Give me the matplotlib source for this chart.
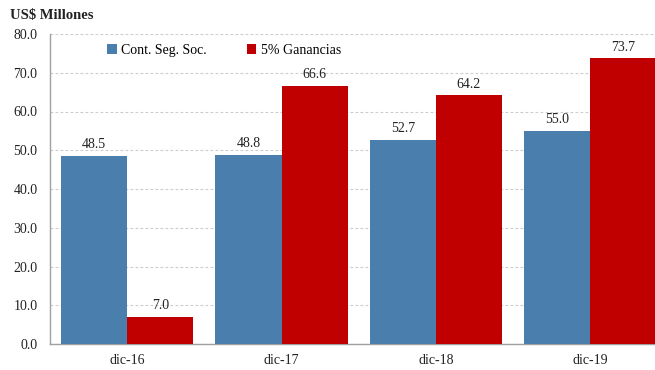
import matplotlib
matplotlib.use("Agg")
import matplotlib.pyplot as plt
import numpy as np

categories = ["dic-16", "dic-17", "dic-18", "dic-19"]
seg_soc = [48.5, 48.8, 52.7, 55.0]
ganancias = [7.0, 66.6, 64.2, 73.7]
series_names = ["Cont. Seg. Soc.", "5% Ganancias"]
colors = ["#4a7fad", "#c00000"]

plt.rcParams["font.family"] = ["Liberation Serif", "DejaVu Serif"]

fig = plt.figure(figsize=(6.55, 3.70), dpi=100)
ax = fig.add_axes([50 / 655, 1 - 344 / 370, 1 - 50 / 655, (344 - 34) / 370])

x = np.arange(len(categories))
w = 0.428
b1 = ax.bar(x - w / 2, seg_soc, w, color=colors[0], label=series_names[0], zorder=3)
b2 = ax.bar(x + w / 2, ganancias, w, color=colors[1], label=series_names[1], zorder=3)

for bars, vals in ((b1, seg_soc), (b2, ganancias)):
    for r, v in zip(bars, vals):
        ax.text(r.get_x() + r.get_width() / 2, v + 1.2, f"{v:.1f}",
                ha="center", va="bottom", fontsize=10, color="#222222", zorder=4)

ax.set_ylim(0, 80)
ax.set_xlim(-0.5, 3.42)
ax.set_yticks(np.arange(0, 81, 10))
ax.set_yticklabels([f"{v:.1f}" for v in np.arange(0, 81, 10)], fontsize=10, color="#222222")
ax.set_xticks(x)
ax.set_xticklabels(categories, fontsize=10, color="#222222")
ax.tick_params(axis="y", length=0, pad=9)
ax.tick_params(axis="x", length=0, pad=7)
ax.grid(axis="y", color="#cccccc", linestyle=(0, (2.5, 2)), linewidth=0.8, zorder=0)

for s in ("top", "right"):
    ax.spines[s].set_visible(False)
for s in ("left", "bottom"):
    ax.spines[s].set_color("#a0a0a0")
    ax.spines[s].set_linewidth(1.0)

leg = ax.legend(loc="upper left", bbox_to_anchor=(0.085, 0.985), ncol=2, frameon=False,
                fontsize=10, handlelength=0.7, handleheight=0.7, handletextpad=0.3,
                columnspacing=2.9, borderaxespad=0)

fig.text(10 / 655, 1 - 15 / 370, "US$ Millones", fontsize=10.5, fontweight="bold",
         ha="left", va="center", color="#222222")

fig.savefig("out.png", dpi=100)
